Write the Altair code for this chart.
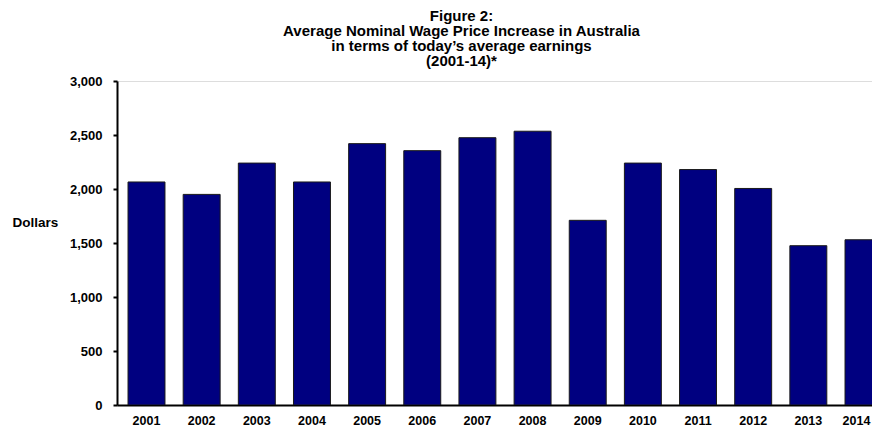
import altair as alt
import pandas as pd

years = ["2001", "2002", "2003", "2004", "2005", "2006", "2007",
         "2008", "2009", "2010", "2011", "2012", "2013", "2014"]
dollars = [2065, 1950, 2240, 2065, 2420, 2355, 2475,
           2535, 1710, 2240, 2180, 2005, 1475, 1530]
y_ticks = [0, 500, 1000, 1500, 2000, 2500, 3000]
title_lines = ["Figure 2:",
               "Average Nominal Wage Price Increase in Australia",
               "in terms of today\u2019s average earnings",
               "(2001-14)*"]

df = pd.DataFrame({"Year": years, "Dollars": dollars})

FONT = "Liberation Sans"
W = 755
H = 324

bars = alt.Chart(df).mark_bar(
    color="#000080", stroke="#1a1a1a", strokeWidth=1, clip=True
).encode(
    x=alt.X("Year:N", sort=years,
            scale=alt.Scale(range=[0, 776], paddingInner=0.33, paddingOuter=0.2),
            axis=alt.Axis(title=None, labelAngle=0, ticks=False,
                          domainColor="black", domainWidth=2,
                          labelFont=FONT, labelFontWeight="bold",
                          labelFontSize=12.5, labelColor="black",
                          labelPadding=9,
                          labelOffset={"condition": {"test": "datum.value == '2014'",
                                                     "value": -7},
                                       "value": 0})),
    y=alt.Y("Dollars:Q",
            scale=alt.Scale(domain=[0, 3000], nice=False),
            axis=alt.Axis(title="Dollars", values=y_ticks, format=",d",
                          grid=False, domainColor="black", domainWidth=2,
                          tickColor="black", tickWidth=2, tickSize=4,
                          labelFont=FONT, labelFontWeight="bold",
                          labelFontSize=13, labelColor="black",
                          labelPadding=11,
                          titleFont=FONT, titleFontWeight="bold",
                          titleFontSize=13.5, titleColor="black",
                          titleAngle=0, titleAlign="left",
                          titleBaseline="middle",
                          titleX=-105, titleY=141)),
)

chart = bars.properties(
    width=W, height=H,
    title=alt.TitleParams(text=title_lines, font=FONT, fontSize=15,
                          fontWeight="bold", color="black", lineHeight=15,
                          anchor="middle", frame="group", dx=-33, offset=6),
    autosize=alt.AutoSizeParams(type="none"),
    padding={"left": 109, "top": 73, "right": 0, "bottom": 21},
).configure_view(stroke=None).configure(background="white")

chart.save("out.html", embed_options={"renderer": "svg", "actions": False})
